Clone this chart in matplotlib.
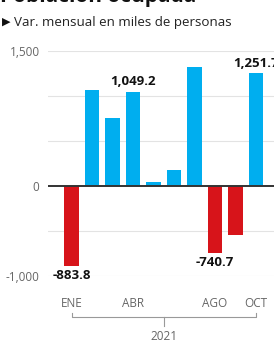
import numpy as np
import matplotlib.pyplot as plt

#----------------------------------------------------------------------------------------------------------------------
# Data

meses = ["ENE", "FEB", "MAR", "ABR", "MAY", "JUN", "JUL", "AGO", "SEP", "OCT"]
valores = [-883.8, 1070, 755, 1049.2, 45, 174, 1322, -740.7, -544, 1251.7]
etiquetas = {0: "-883.8", 3: "1,049.2", 7: "-740.7", 9: "1,251.7"}
ticks_x = ["ENE", "ABR", "AGO", "OCT"]
ticks_y = [1500, 0, -1000]
ticks_y_txt = ["1,500", "0", "-1,000"]

azul = "#00aeef"
rojo = "#d7141a"

#----------------------------------------------------------------------------------------------------------------------
# Figure

plt.rcParams['font.family'] = ['Open Sans', 'DejaVu Sans']

fig = plt.figure(figsize=(2.74, 3.47), dpi=100)
ax = fig.add_axes([0.175, 0.2046, 0.825, 0.6484])

x = np.arange(len(meses))
colores = [azul if v > 0 else rojo for v in valores]
ax.bar(x, valores, width=0.7, color=colores, zorder=2)

for y in [-1000, -500, 500, 1000, 1500]:
    ax.axhline(y, color="#e3e3e3", lw=0.8, zorder=1)
ax.axhline(0, color="#333333", lw=1.4, zorder=3)

for i, txt in etiquetas.items():
    v = valores[i]
    if v > 0:
        ax.text(x[i], v + 40, txt, ha="center", va="bottom", fontsize=9.5,
                fontweight="bold", color="#111111", clip_on=False)
    else:
        ax.text(x[i], v - 40, txt, ha="center", va="top", fontsize=9.5,
                fontweight="bold", color="#111111", clip_on=False)

ax.set_xlim(-1.15, 9.88)
ax.set_ylim(-1000, 1500)
ax.set_yticks(ticks_y)
ax.set_yticklabels(ticks_y_txt)
ax.set_xticks([meses.index(m) for m in ticks_x])
ax.set_xticklabels(ticks_x)
ax.tick_params(axis="both", length=0, labelsize=8.5, labelcolor="#666666")
ax.tick_params(axis="y", pad=6)
ax.tick_params(axis="x", pad=15)
for s in ax.spines.values():
    s.set_visible(False)

# bracket for year
ax.plot([0, 0, 9, 9], [-1414, -1459, -1459, -1414], color="#999999", lw=0.8,
        clip_on=False)
ax.plot([4.5, 4.5], [-1459, -1559], color="#999999", lw=0.8, clip_on=False)
ax.text(4.5, -1600, "2021", ha="center", va="top", fontsize=8.5, color="#666666",
        clip_on=False)

# titles
fig.text(0.0, 0.995, "Población ocupada", ha="left", va="baseline", fontsize=15,
         fontweight="bold", color="#111111")
fig.text(0.008, 0.936, "\u25B6", ha="left", va="center", fontsize=8, color="#111111")
fig.text(0.05, 0.936, "Var. mensual en miles de personas", ha="left", va="center",
         fontsize=9.6, color="#222222")

fig.savefig("out.png", dpi=100)
